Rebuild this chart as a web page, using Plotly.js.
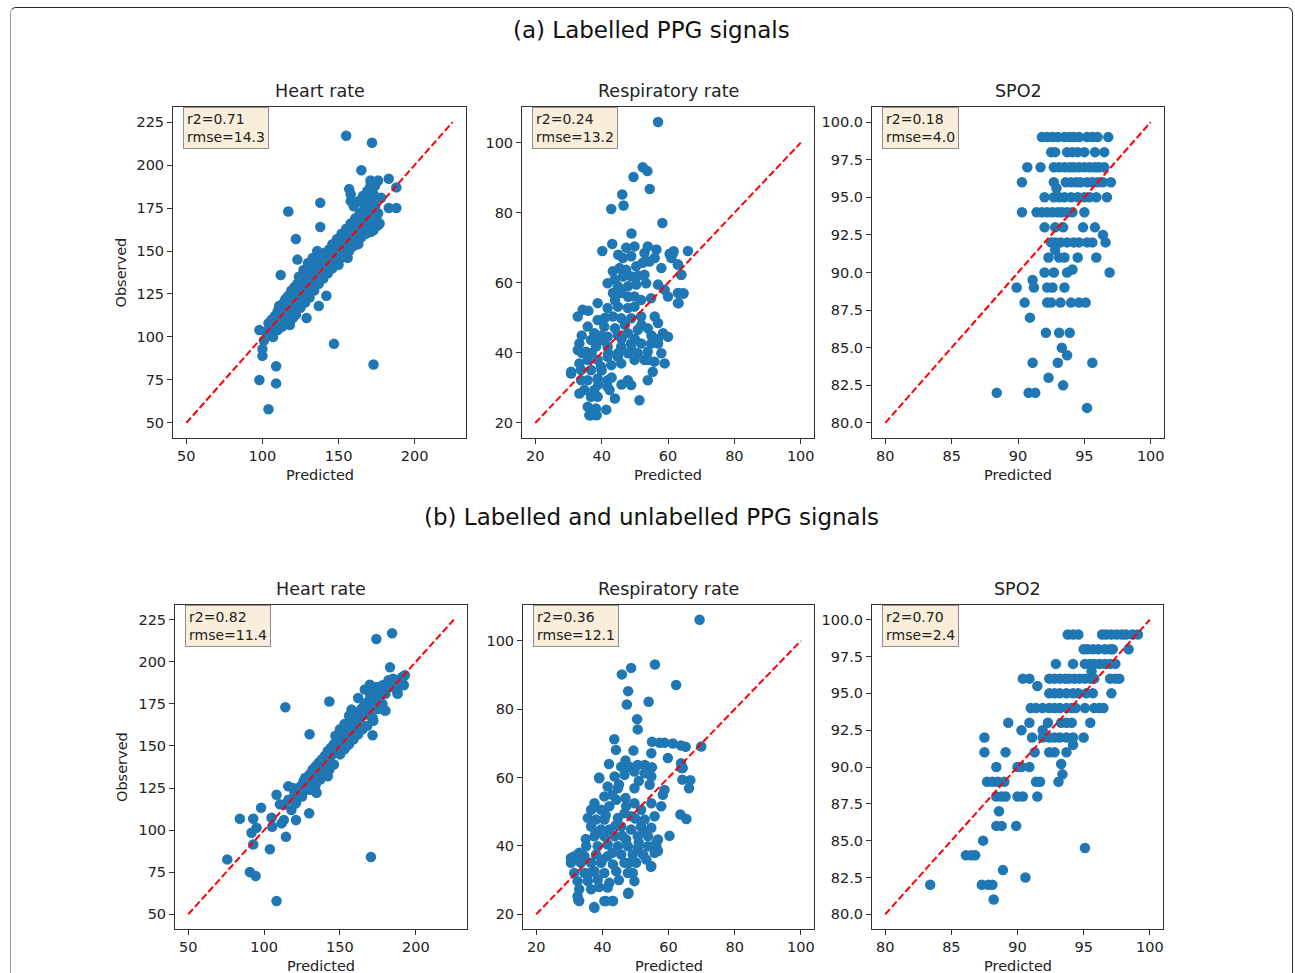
<!DOCTYPE html>
<html><head><meta charset="utf-8">
<script src="https://cdn.plot.ly/plotly-3.0.1.min.js"></script>
<style>
html,body{margin:0;padding:0;background:#fff;overflow:hidden}
#chart{width:1295px;height:973px}
#frame{position:absolute;left:10px;top:7px;width:1281px;height:1010px;border:1.5px solid #2a2a2a;border-left-color:#9a9a9a;border-radius:6px;pointer-events:none}
</style></head><body>
<div id="chart"></div><div id="frame"></div>
<script>
// ---- (a) labelled PPG signals: [predicted, observed] ----
const heartRateA = [
  [155,217],[172,213],[165,197],[183,192],[188,187],[183,175],[188,175],[178,181],[157,186],[158,183],[158,179],[171,191],[176,191],
  [117,173],[138,178],[138,164],[122,157],[123,145],[112,136],[142,124],[137,118],[129,111],[118,107],[107,100],[98,104],[101,98],
  [100,93],[100,89],[109,83],[98,75],[109,73],[104,58],[147,96],[173,84],[171,161],[177,166],[163,154],[156,146],[150,142],
  [102,103],[104,108],[106,110],[105,105],[108,112],[110,115],[109,108],[112,110],[111,118],[113,119],[114,113],[115,122],[116,117],
  [117,124],[118,120],[119,127],[120,123],[121,129],[122,125],[120,116],[123,131],[124,127],[125,122],[126,133],[127,128],[128,124],
  [129,135],[130,130],[131,126],[131,137],[132,133],[133,129],[134,140],[135,136],[136,132],[136,143],[137,139],[138,135],[139,146],
  [140,142],[141,138],[141,149],[142,145],[143,141],[144,151],[145,147],[146,143],[146,154],[147,150],[148,146],[149,157],[150,153],
  [151,149],[152,160],[153,156],[154,152],[155,163],[156,159],[157,155],[158,166],[159,162],[160,158],[161,169],[162,165],[163,161],
  [164,172],[165,168],[166,164],[167,175],[168,171],[169,167],[169,178],[170,174],[171,170],[172,181],[173,177],[174,173],[172,186],
  [174,188],[170,185],[175,170],[176,165],[173,162],[168,160],[165,158],[162,155],[158,152],[155,150],[152,146],[149,143],[146,140],
  [143,137],[140,134],[137,131],[134,127],[131,123],[128,120],[125,117],[122,113],[119,111],[116,109],[113,106],[110,104],[133,146],
  [136,150],[130,143],[127,139],[124,135],[160,176],[163,179],[166,182],[169,185],[171,188],
  [166,160],[168,166],[170,163],[172,168],[174,176],[175,166],[176,172],[171,179],[173,183],[167,180],[163,170],[160,164],[157,160],
  [154,157],[151,155],[148,150],[145,145],[142,140],[139,139],[136,137],[133,134],[130,128],[127,126],[124,122],[121,120],[118,116],
  [115,112],[112,114],[120,111],[126,120],[160,153],[157,150]
];
const respiratoryA = [
  [57,105.9],[52.4,93],[53.8,91.9],[49.6,90.2],[54.5,86.8],[46.2,85.2],[46.6,82.1],[42.9,81.1],[58.3,77.1],[49,74.1],[43.2,71.1],
  [40.2,69.1],[66,69.1],[61.7,69],[60.5,68.3],[63,65.2],[64,62.3],[63.3,57],[64.7,57],[63.2,54.2],[30.8,34.1],[38.5,22.2],[36.3,22.2],
  [47.4,70.0],[49.9,70.4],[53.9,70.4],[56.5,69.5],[56.0,67.1],[52.9,68.5],[48.9,67.6],[46.4,67.1],[45.4,64.2],[43.4,63.3],[47.4,63.7],
  [50.4,64.7],[52.4,65.7],[54.4,66.1],[52.9,62.3],[48.9,61.8],[46.4,61.8],[43.9,60.9],[41.8,59.9],[44.9,59.0],[47.9,59.0],[50.4,59.5],
  [53.4,59.9],[43.4,57.1],[45.9,57.1],[49.9,56.1],[51.9,55.1],[54.9,55.6],[58.0,64.2],[61.5,68.5],[61.0,67.1],[63.0,65.2],[64.0,62.3],
  [57.0,59.5],[59.0,58.0],[60.0,56.1],[63.0,57.1],[64.5,56.9],[63.0,54.2],[38.8,54.2],[34.3,52.3],[32.8,50.4],[41.8,52.8],[44.9,53.2],
  [47.9,52.8],[49.9,53.2],[43.4,50.4],[38.8,49.4],[35.8,47.5],[37.8,45.6],[40.8,47.5],[45.9,49.9],[48.9,49.9],[51.9,50.4],[56.0,50.4],
  [57.0,48.5],[53.9,47.0],[58.5,45.6],[60.0,44.6],[50.9,46.6],[47.9,45.6],[44.9,45.1],[41.8,44.6],[39.8,43.7],[36.8,43.7],[33.3,42.7],
  [32.8,40.8],[35.3,40.3],[38.3,41.8],[41.8,41.8],[45.9,41.8],[48.9,42.7],[51.9,42.7],[54.9,42.7],[57.0,42.7],[53.9,40.3],[50.9,39.9],
  [47.9,39.9],[44.9,38.9],[41.8,38.9],[38.8,38.0],[35.8,38.0],[33.3,37.0],[30.8,34.6],[33.8,35.1],[36.8,35.1],[39.8,36.1],[42.9,36.5],
  [45.9,37.0],[49.9,38.0],[52.9,38.0],[55.9,37.5],[59.0,37.0],[58.0,39.9],[33.8,32.2],[35.8,32.2],[38.8,32.7],[41.8,32.2],[34.8,29.4],
  [37.8,29.4],[41.8,30.3],[47.9,32.2],[48.9,30.8],[53.9,32.2],[55.4,34.6],[33.3,28.4],[36.8,27.5],[38.8,27.5],[42.4,29.4],[35.8,24.6],
  [38.3,24.1],[41.4,23.8],[36.8,22.2],[51.4,26.5],
  [44,47],[46,44],[42,40],[40,35],[37,40],[34,45],[43,33],[46,31],[44,27],[39,31],[50,44],[52,48],[55,45],[47,48],[41,50],[36,52],
  [34,40],[40,45],[45,40],[49,41],[54,38],[57,44],[44,55],[48,56],[51,62],[45,68]
];
const spo2A = [
  [91.8,99],[92.2,99],[92.6,99],[93.0,99],[93.5,99],[93.9,99],[94.2,99],[94.6,99],[95.2,99],[95.6,99],[96.0,99],[96.8,99],
  [92.5,98],[92.8,98],[93.7,98],[94.1,98],[94.5,98],[95.0,98],[95.8,98],[96.5,98],
  [90.7,97],[91.7,97],[92.7,97],[93.1,97],[93.5,97],[93.9,97],[94.2,97],[94.6,97],[95.0,97],[95.4,97],[95.8,97],[96.1,97],[96.5,97],
  [90.3,96],[92.7,96],[93.6,96],[94.0,96],[94.4,96],[94.7,96],[95.2,96],[95.6,96],[96.0,96],[96.4,96],[97.0,96],[92.9,95.6],
  [92.0,95],[92.7,95],[93.1,95],[93.5,95],[94.0,95],[94.5,95],[95.0,95],[95.4,95],[95.9,95],[96.7,95],
  [90.3,94],[91.4,94],[91.8,94],[92.2,94],[92.6,94],[93.0,94],[93.3,94],[93.7,94],[94.1,94],[95.0,94],
  [92.0,93],[92.8,93],[93.4,93],[94.9,93],[95.8,93],[96.4,92.5],
  [92.5,92],[92.8,92],[93.2,92],[93.7,92],[94.2,92],[94.6,92],[95.2,92],[95.6,92],[96.6,92],[92.8,91.5],
  [92.3,91],[93.1,91],[93.5,91],[94.5,91],[95.9,91],
  [92.0,90],[92.7,90],[93.7,90],[94.1,90.2],[96.9,90],
  [89.9,89],[91.2,89],[92.2,89],[92.6,89],[93.5,89],[91.1,89.5],
  [90.5,88],[92.2,88],[92.5,88],[93.2,88],[94.0,88],[94.6,88],[95.1,88],
  [90.9,87],[92.1,86],[93.1,86],[93.9,86],[93.3,85],[93.7,84.5],[91.1,84],[93.0,84],[95.6,84],
  [92.3,83],[93.4,82.5],[88.4,82],[90.8,82],[91.3,82],[95.2,81]
];

// ---- (b) labelled and unlabelled PPG signals: [predicted, observed] ----
const heartRateB = [
  [184.4,217],[174,213.5],[183,196.7],[114,173],[143,176.4],[130,157],[171.5,156.4],[142,132],[129.7,110],[121,106],[113,106],
  [114.4,96],[103.8,88.6],[98,113.3],[84,106.8],[92.8,106.8],[91.7,98.4],[95,101.4],[92.8,91.5],[75.7,82.6],[90.6,75.1],[94.4,72.7],
  [108.2,57.9],[170.4,84],[108.2,121],[110.4,115.3],[115.9,126],[134.6,122.2],[105.3,102],[111.5,104],[104.9,107.3],[192.8,192],
  [192,186.4],[188,181.5],[179.6,171],[180.2,186.4],[169.7,186.4],[166.4,183.5],[162,178.5],[157.6,171.6],[171.5,166.7],[175.2,179.5],
  [133.5,125],[142.9,140.4],[153.9,149.5],
  [113,115],[116,118],[118,112],[120,122],[122,119],[119,125],[124,126],[121,116],[125,120],[126,129],[128,124],[127,131],[129,127],
  [130,133],[131,129],[132,136],[133,131],[134,138],[135,134],[136,140],[137,136],[138,142],[139,137],[140,144],[141,140],[142,147],
  [143,142],[144,149],[145,145],[146,139],[143,136],[140,133],[137,130],[134,127],[131,124],
  [146,151],[147,147],[148,153],[149,149],[150,155],[151,151],[152,158],[153,153],[154,160],[155,156],[156,163],[157,158],[158,165],
  [159,161],[160,168],[161,163],[162,170],[163,166],[164,172],[165,168],[150,145],[153,148],[156,151],[159,154],[162,157],[165,160],
  [147,156],[150,160],[153,163],[156,168],
  [166,174],[167,170],[168,176],[169,172],[170,180],[171,175],[172,183],[173,177],[174,185],[175,180],[176,178],[177,183],[178,186],
  [180,181],[181,187],[182,189],[183,185],[185,190],[186,186],[187,184],[188,181],[190,188],[191,191],[192,186],[170,168],[172,165],
  [175,172],[178,175],[180,171],[168,162],[164,161]
];
const respiratoryB = [
  [69.4,106.2],[55.9,93.1],[48.7,92.1],[45.9,90.2],[62.3,87.1],[47.8,85.3],[47.4,81.4],[54,82.2],[50.5,77.1],[50.7,74.1],[43.6,71.2],
  [44.1,68.1],[49.4,67.9],[39,60],[69.9,69.1],[55,70.5],[57.3,70.2],[58.8,70.2],[61.3,70],[63.8,69.4],[65.2,69],[63.8,64.2],[64.3,62.8],
  [66.6,59.2],[66.2,56.9],[64.2,59.4],[63.6,49.2],[65.4,47.9],[60.3,43],[54.7,33.9],[47.8,26],[43.1,23.9],[41.1,23.9],[37.5,22.1],
  [32.7,24.2],[30.5,36.5],[56.3,40.9],[56.8,38.5],[54.8,67.1],[59.8,65.7],[63.9,62.8],
  [45.7,63.2],[48.2,63.2],[50.7,63.7],[52.8,63.7],[43.7,60.3],[46.7,60.8],[49.7,61.8],[52.8,61.3],[54.8,60.3],[39.1,59.8],[41.6,57.4],
  [44.7,56.9],[49.7,56.9],[54.3,57.9],[58.8,56.4],[58.3,55.0],[40.6,54.5],[37.6,52.5],[36.6,50.6],[39.6,50.6],[42.1,51.6],[44.2,53.5],
  [47.2,51.6],[49.7,52.5],[51.7,50.6],[54.8,52.5],[57.8,51.6],[35.6,48.2],[38.1,47.7],[40.6,47.7],[44.7,48.2],[46.7,49.6],[48.7,48.7],
  [52.8,47.7],[55.8,48.7],[36.6,45.7],[39.6,44.8],[42.1,44.8],[45.7,45.7],[48.7,44.8],[51.7,45.7],[54.8,45.3],[37.6,42.8],[40.6,42.8],
  [43.7,42.8],[47.2,41.9],[50.7,42.8],[53.8,42.8],[56.8,41.9],[35.1,39.9],[38.6,39.9],[41.6,40.4],[44.7,39.9],[47.7,39.9],[50.7,39.4],
  [53.8,39.9],[56.3,39.9],[31.5,37.0],[34.6,37.0],[38.1,37.5],[41.6,37.0],[45.7,37.5],[49.2,37.5],[52.3,37.5],[55.8,38.0],[30.5,35.1],
  [33.5,35.1],[36.6,35.1],[39.6,35.1],[43.2,34.6],[46.7,35.1],[50.2,35.1],[53.3,36.0],[31.5,32.1],[34.6,32.1],[37.6,32.6],[40.6,32.1],
  [44.2,32.6],[47.7,32.1],[54.8,34.1],[32.5,29.7],[35.6,29.7],[38.6,30.2],[42.1,29.2],[49.2,32.1],[49.7,29.7],[33.0,27.3],[36.6,27.3],
  [41.6,27.8],[32.5,25.3],[33.0,23.9],[40.6,23.9],[43.2,23.9],[37.6,21.9],[47.9,26.3],
  [40,36],[43,38],[46,43],[44,46],[41,49],[38,44],[35,42],[33,38],[36,32],[39,28],[45,30],[48,35],[51,41],[53,44],[50,48],[47,54],
  [45,58],[43,55],[51,59],[55,63],[47,65],[42,64]
];
const spo2B = [
  [93.8,99],[94.2,99],[94.6,99],[96.4,99],[96.7,99],[97.1,99],[97.5,99],[97.9,99],[98.2,99],[98.7,99],[99.1,99],
  [95.0,98],[95.3,98],[95.7,98],[96.1,98],[96.6,98],[97.0,98],[97.2,98],[98.4,98],
  [92.9,97],[94.2,97],[95.1,97],[95.5,97],[95.8,97],[96.2,97],[96.6,97],[97.0,97],[97.4,97],[95.6,96.5],
  [90.4,96],[90.9,96],[92.4,96],[92.8,96],[93.2,96],[93.6,96],[93.9,96],[94.3,96],[94.7,96],[95.1,96],[95.5,96],[95.8,96],
  [97.0,96],[97.4,96],[97.7,96],[91.5,95.5],
  [92.4,95],[92.8,95],[93.2,95],[93.7,95],[94.2,95],[94.6,95],[95.2,95],[95.7,95],[97.1,95],
  [91.0,94],[91.4,94],[91.9,94],[92.4,94],[92.8,94],[93.2,94],[93.7,94],[94.1,94],[94.4,94],[95.1,94],[95.8,94],[96.2,94],[96.5,94],
  [89.3,93],[90.9,93],[92.3,93],[93.3,93],[93.7,93],[94.1,93],[95.5,93],[90.3,92.5],[91.9,92.5],
  [87.5,92],[91.1,92],[91.9,92],[92.4,92],[92.8,92],[93.2,92],[93.7,92],[94.2,92],[95.0,92],[94.2,91.5],
  [87.5,91],[89.1,91],[91.3,91],[92.4,91],[92.8,91],[93.7,91],
  [88.4,90],[90.0,90],[90.3,90],[90.9,90],[93.3,90.2],[93.4,89.5],
  [87.7,89],[88.1,89],[88.5,89],[89.0,89],[91.4,89],[91.7,89],[93.1,89],
  [88.4,88],[88.8,88],[89.1,88],[90.0,88],[90.4,88],[91.5,88],
  [88.6,87],[88.4,86],[88.8,86],[89.9,86],[87.4,85],[95.1,84.5],[86.1,84],[86.5,84],[86.8,84],
  [88.9,83],[90.6,82.5],[83.4,82],[87.3,82],[87.8,82],[88.1,82],[88.2,81]
];

// identity reference lines (x = y) and tick values per measurement
const hrLine = [50, 225];
const rrLine = [20, 100];
const spLine = [80, 100];
const hrTicksX = [50, 100, 150, 200];
const hrTicksY = [50, 75, 100, 125, 150, 175, 200, 225];
const rrTicks = [20, 40, 60, 80, 100];
const spTicksX = [80, 85, 90, 95, 100];
const spTicksY = [80, 82.5, 85, 87.5, 90, 92.5, 95, 97.5, 100];

const panelTitles = ['Heart rate', 'Respiratory rate', 'SPO2'];
const statsA = ['r2=0.71<br>rmse=14.3', 'r2=0.24<br>rmse=13.2', 'r2=0.18<br>rmse=4.0'];
const statsB = ['r2=0.82<br>rmse=11.4', 'r2=0.36<br>rmse=12.1', 'r2=0.70<br>rmse=2.4'];
const sectionTitles = ['(a) Labelled PPG signals', '(b) Labelled and unlabelled PPG signals'];

const W = 1295, H = 973;
const FONT = 'DejaVu Sans, Liberation Sans, sans-serif';
const BLUE = '#1f77b4';

// plot boxes in pixels: [left, right, top, bottom]
const boxes = [
  [173, 466, 107, 438], [522, 814, 107, 438], [872, 1164, 107, 438],
  [175, 467, 605, 929], [523, 814, 605, 929], [872, 1163, 605, 929]
];
const datasets = [heartRateA, respiratoryA, spo2A, heartRateB, respiratoryB, spo2B];
const lines = [hrLine, rrLine, spLine, hrLine, rrLine, spLine];
const stats = statsA.concat(statsB);

function pad(lo, hi) { const m = (hi - lo) * 0.05; return [lo - m, hi + m]; }
function extent(vals) { return [Math.min(...vals), Math.max(...vals)]; }

const traces = [];
const layout = {
  width: W, height: H, margin: {l: 0, r: 0, t: 0, b: 0},
  paper_bgcolor: '#fff', plot_bgcolor: '#fff', showlegend: false,
  font: {family: FONT, color: '#222'}, annotations: []
};

datasets.forEach((pts, i) => {
  const k = i + 1;
  const xs = pts.map(p => p[0]), ys = pts.map(p => p[1]);
  const ln = lines[i];
  const xr = pad(...extent(xs.concat(ln)));
  const yr = pad(...extent(ys.concat(ln)));
  const col = i % 3;
  const b = boxes[i];
  const xa = 'x' + (k === 1 ? '' : k), ya = 'y' + (k === 1 ? '' : k);
  traces.push({
    type: 'scatter', mode: 'markers', x: xs, y: ys, xaxis: xa, yaxis: ya,
    marker: {color: BLUE, size: 10.5, line: {width: 0}}, hoverinfo: 'skip'
  });
  traces.push({
    type: 'scatter', mode: 'lines', x: ln, y: ln, xaxis: xa, yaxis: ya,
    line: {color: 'red', width: 2, dash: '7px,3px'}, hoverinfo: 'skip'
  });
  const tx = col === 0 ? hrTicksX : col === 1 ? rrTicks : spTicksX;
  const ty = col === 0 ? hrTicksY : col === 1 ? rrTicks : spTicksY;
  const axBase = {
    showgrid: false, zeroline: false, showline: true, mirror: true,
    linecolor: '#333', linewidth: 1, ticks: 'outside', ticklen: 5, tickcolor: '#333',
    tickfont: {family: FONT, size: 14.5, color: '#222'}, tickmode: 'array', fixedrange: true
  };
  layout['xaxis' + (k === 1 ? '' : k)] = Object.assign({}, axBase, {
    domain: [b[0] / W, b[1] / W], range: xr, anchor: ya, tickvals: tx,
    ticktext: tx.map(v => String(v))
  });
  layout['yaxis' + (k === 1 ? '' : k)] = Object.assign({}, axBase, {
    domain: [1 - b[3] / H, 1 - b[2] / H], range: yr, anchor: xa, tickvals: ty,
    ticktext: ty.map(v => col === 2 ? v.toFixed(1) : String(v))
  });
  // panel title
  layout.annotations.push({
    text: panelTitles[col], xref: xa + ' domain', yref: ya + ' domain', x: 0.5, y: 1,
    xanchor: 'center', yanchor: 'bottom', yshift: 4, showarrow: false,
    font: {family: FONT, size: 17.5, color: '#222'}
  });
  // x label
  layout.annotations.push({
    text: 'Predicted', xref: xa + ' domain', yref: ya + ' domain', x: 0.5, y: 0,
    xanchor: 'center', yanchor: 'top', yshift: -27, showarrow: false,
    font: {family: FONT, size: 14.5, color: '#222'}
  });
  if (col === 0) {
    layout.annotations.push({
      text: 'Observed', xref: xa + ' domain', yref: ya + ' domain', x: 0, y: 0.5,
      xanchor: 'center', yanchor: 'middle', xshift: -53, textangle: -90, showarrow: false,
      font: {family: FONT, size: 14.5, color: '#222'}
    });
  }
  // r2 / rmse box
  layout.annotations.push({
    text: stats[i], xref: xa + ' domain', yref: ya + ' domain', x: 0, y: 1,
    xanchor: 'left', yanchor: 'top', xshift: 10, yshift: 0, align: 'left', showarrow: false,
    bgcolor: '#f9eeda', bordercolor: '#8f8f8f', borderwidth: 1, borderpad: 3,
    font: {family: FONT, size: 14, color: '#222'}
  });
});

// section headings
[[30, sectionTitles[0]], [517, sectionTitles[1]]].forEach(([py, t]) => {
  layout.annotations.push({
    text: t, xref: 'paper', yref: 'paper', x: 651 / W, y: 1 - py / H,
    xanchor: 'center', yanchor: 'middle', showarrow: false,
    font: {family: FONT, size: 23, color: '#111'}
  });
});

Plotly.newPlot('chart', traces, layout, {staticPlot: true});
</script></body></html>
